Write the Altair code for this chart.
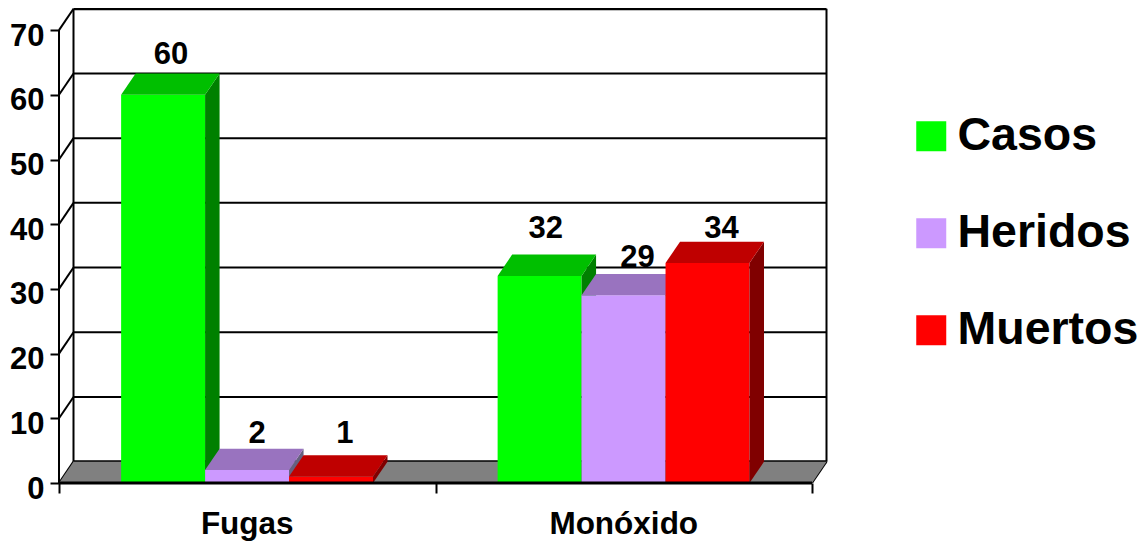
import altair as alt
import pandas as pd

# ---- chart values ----
categories = ["Fugas", "Monóxido"]
series = ["Casos", "Heridos", "Muertos"]
casos = [60, 32]
heridos = [2, 29]
muertos = [1, 34]
y_ticks = [0, 10, 20, 30, 40, 50, 60, 70]
front_colors = ["#00FF00", "#CC99FF", "#FF0000"]
top_colors = ["#00BF00", "#9973BF", "#BF0000"]
side_colors = ["#008000", "#666080", "#800000"]

# ---- 3D layout, in axis units ----
FONT = "Liberation Sans"
UNIT = 376.5           # px per category
DX = 14.5 / UNIT       # depth along x
DY = 3.3               # depth along y
BAR = 0.223
GAP = 0.165
Y_MAX = 475 / 6.47
X_MAX = 768 / UNIT
# label placement relative to the bar front-centre (category units, value units)
LABEL_NUDGE = {
    (0, 0): (0.021, 6.15), (0, 1): (0.027, 5.57), (0, 2): (0.037, 6.57),
    (1, 0): (0.016, 7.26), (1, 1): (0.037, 5.78), (1, 2): (0.037, 5.26),
}

values = [casos, heridos, muertos]
polys, labels = [], []
pid = 0


def add(fill, pts):
    global pid
    pid += 1
    for x, y, y2 in pts:
        polys.append({"id": pid, "x": x, "y": y, "y2": y2, "fill": fill})


add("#808080", [(0, 0, 0), (DX, 0, DY), (2, 0, DY), (2 + DX, DY, DY)])
for c in range(len(categories)):
    for s in range(len(series)):
        v = values[s][c]
        a = c + GAP + s * BAR
        b = a + BAR
        add(front_colors[s], [(a, 0, v), (b, 0, v)])
        add(side_colors[s], [(b, 0, v), (b + DX, DY, v + DY)])
        add(top_colors[s], [(a, v, v), (a + DX, v, v + DY), (b, v, v + DY), (b + DX, v + DY, v + DY)])
        nx, ny = LABEL_NUDGE[(c, s)]
        labels.append({"x": (a + b) / 2 + nx, "y": v + ny, "t": str(v)})

thin, thick = [], []
for t in y_ticks:
    thin.append({"x": 0, "y": t, "x2": DX, "y2": t + DY})
    if 0 < t < 70:
        thin.append({"x": DX, "y": t + DY, "x2": 2 + DX, "y2": t + DY})
thin.append({"x": 0, "y": 0, "x2": 0, "y2": 70})
thin.append({"x": DX, "y": DY, "x2": DX, "y2": 70 + DY})
thin.append({"x": 2 + DX, "y": DY, "x2": 2 + DX, "y2": 70 + DY})
thin.append({"x": 2, "y": 0, "x2": 2 + DX, "y2": DY})
thick.append({"x": DX, "y": 70 + DY, "x2": 2 + DX, "y2": 70 + DY})
back_floor = [{"x": DX, "y": DY, "x2": 2 + DX, "y2": DY}]
front_floor = [{"x": 0, "y": 0, "x2": 2, "y2": 0}]

xs = alt.Scale(domain=[0, X_MAX], nice=False, zero=False)
ys = alt.Scale(domain=[0, Y_MAX], nice=False, zero=False)
X = alt.X("x:Q", scale=xs, title=None,
          axis=alt.Axis(values=[0, 1, 2], labels=False, domain=False, grid=False,
                        tickSize=10, tickWidth=2, tickColor="black", title=None))
Y = alt.Y("y:Q", scale=ys, title=None,
          axis=alt.Axis(values=y_ticks, domain=False, grid=False, tickSize=9, tickWidth=2,
                        tickColor="black", labelFont=FONT, labelFontSize=31, labelFontWeight="bold",
                        labelColor="black", labelPadding=6, labelOffset=6, title=None))


def rules(rows, width):
    return alt.Chart(pd.DataFrame(rows)).mark_rule(color="black", strokeWidth=width).encode(
        x=X, y=Y, x2="x2:Q", y2="y2:Q")


grid = rules(thin, 2)

area = alt.Chart(pd.DataFrame(polys)).mark_area(interpolate="linear", opacity=1).encode(
    x=X, y=Y, y2="y2:Q",
    fill=alt.Fill("fill:N", scale=None),
    detail="id:N")

legend_layer = alt.Chart(pd.DataFrame({"s": series, "x": [0, 0, 0], "y": [0, 0, 0]})).mark_square(
    size=0, opacity=1).encode(
    x=X, y=Y,
    color=alt.Color("s:N", scale=alt.Scale(domain=series, range=front_colors),
                    legend=alt.Legend(title=None, orient="none", legendX=849, legendY=105,
                                      symbolType="square", symbolSize=900, symbolOpacity=1,
                                      symbolStrokeWidth=0,
                                      labelFont=FONT, labelFontSize=46.5, labelFontWeight="bold",
                                      labelColor="black", labelOffset=3, rowPadding=50,
                                      labelLimit=400)))

val_text = alt.Chart(pd.DataFrame(labels)).mark_text(
    font=FONT, fontSize=31, fontWeight="bold", color="black", baseline="middle").encode(
    x=X, y=Y, text="t:N")

cat_text = alt.Chart(pd.DataFrame({"t": categories, "x": [0.5, 1.5], "y": [0, 0]})).mark_text(
    font=FONT, fontSize=31.5, fontWeight="bold", color="black", baseline="middle", dy=42).encode(
    x=X, y=Y, text="t:N")

chart = alt.layer(
    grid, rules(thick, 3), rules(back_floor, 3), area, legend_layer, rules(front_floor, 3), val_text, cat_text
).properties(
    width=768, height=475,
    autosize=alt.AutoSizeParams(type="none"),
    padding={"left": 51, "top": 0, "right": 312, "bottom": 59},
    background="white",
).configure_view(stroke=None)

chart.save("out.html", embed_options={"renderer": "svg", "actions": False})
